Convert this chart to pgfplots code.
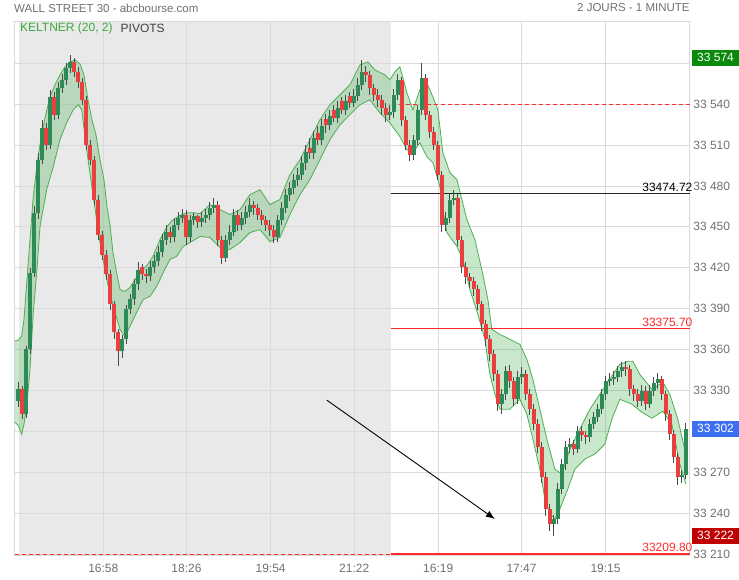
\documentclass[border=0pt]{standalone}
\usepackage{pgfplots}
\pgfplotsset{compat=1.18}
\usepackage{pgfplotstable}
\usepgfplotslibrary{fillbetween}
\usetikzlibrary{arrows.meta}
\usepackage{fontspec}
\setmainfont{Liberation Sans}
\definecolor{graybg}{HTML}{E9E9E9}
\definecolor{gridc}{HTML}{DADADA}
\definecolor{txtgray}{HTML}{707070}
\definecolor{candleG}{HTML}{2E8B57}
\definecolor{candleR}{HTML}{E8403F}
\definecolor{wick}{HTML}{4A4A4A}
\definecolor{bandline}{HTML}{4CAF50}
\definecolor{bandfill}{HTML}{4CAF50}
\definecolor{keltner}{HTML}{3DA83D}
\definecolor{boxgreen}{HTML}{0A8A0A}
\definecolor{boxblue}{HTML}{3B6FF0}
\definecolor{boxred}{HTML}{C00000}
\definecolor{pivred}{HTML}{FF2A2A}
\newcommand\ff{\fontsize{12}{14}\selectfont}
\newcommand\fs{\fontsize{11.5}{14}\selectfont}

\pgfplotstableread{
x o h l c
18 33322.0 33336.0 33318.0 33330.9
22 33330.9 33333.0 33309.0 33312.6
26 33312.6 33363.0 33310.0 33360.2
30 33360.2 33420.0 33357.0 33416.5
34 33416.5 33465.0 33413.0 33460.4
38 33460.4 33504.0 33456.0 33499.2
42 33499.2 33528.0 33496.0 33522.6
46 33522.6 33526.0 33506.0 33510.2
50 33510.2 33550.0 33507.0 33545.3
54 33545.3 33549.0 33528.0 33532.2
58 33532.2 33556.0 33529.0 33551.9
62 33551.9 33562.0 33548.0 33557.8
66 33557.8 33570.0 33554.0 33566.5
70 33566.5 33576.0 33563.0 33570.9
74 33570.9 33574.0 33560.0 33563.6
78 33563.6 33567.0 33552.0 33556.3
82 33556.3 33559.0 33539.0 33543.1
86 33543.1 33546.0 33506.0 33510.2
90 33510.2 33514.0 33495.0 33499.2
94 33499.2 33502.0 33466.0 33470.0
98 33470.0 33473.0 33440.0 33444.3
102 33444.3 33447.0 33426.0 33429.7
106 33429.7 33433.0 33411.0 33415.1
110 33415.1 33418.0 33389.0 33393.1
114 33393.1 33396.0 33368.0 33372.6
118 33372.6 33375.0 33347.8 33358.7
122 33358.7 33371.0 33354.0 33367.5
126 33367.5 33393.0 33364.0 33389.5
130 33389.5 33401.0 33386.0 33396.8
134 33396.8 33412.0 33393.0 33407.8
138 33407.8 33424.0 33404.0 33418.7
142 33420.5 33423.0 33411.0 33415.1
146 33415.1 33419.0 33409.0 33413.6
150 33413.6 33425.0 33410.0 33420.2
154 33420.2 33429.0 33416.0 33424.6
158 33424.6 33436.0 33421.0 33431.9
162 33431.9 33445.0 33428.0 33440.7
166 33440.7 33451.0 33437.0 33446.5
170 33446.5 33450.0 33438.0 33442.9
174 33442.9 33456.0 33439.0 33451.7
178 33451.7 33461.0 33448.0 33456.8
182 33456.8 33463.0 33453.0 33459.0
186 33459.0 33462.0 33437.0 33442.2
190 33442.2 33459.0 33439.0 33455.3
194 33455.3 33460.0 33451.0 33458.0
198 33458.0 33459.0 33449.0 33453.9
202 33453.9 33461.0 33450.0 33456.8
206 33456.8 33463.0 33453.0 33459.0
210 33459.0 33468.0 33455.0 33464.1
214 33464.1 33471.0 33460.0 33466.3
218 33466.3 33469.0 33436.0 33440.7
222 33440.7 33443.0 33423.0 33427.5
226 33427.5 33444.0 33424.0 33440.7
230 33440.7 33451.0 33437.0 33446.5
234 33446.5 33463.0 33443.0 33459.0
238 33459.0 33462.0 33447.0 33451.7
242 33451.7 33461.0 33448.0 33456.8
246 33456.8 33465.0 33452.0 33461.2
250 33461.2 33471.0 33457.0 33466.3
254 33466.3 33469.0 33459.0 33464.1
258 33464.1 33467.0 33455.0 33459.0
262 33459.0 33462.0 33451.0 33455.3
266 33455.3 33458.0 33447.0 33451.7
270 33451.7 33455.0 33443.0 33448.0
274 33448.0 33451.0 33438.0 33442.2
278 33442.2 33459.0 33439.0 33455.3
282 33455.3 33468.0 33451.0 33464.1
286 33464.1 33478.0 33460.0 33473.6
290 33473.6 33483.0 33469.0 33478.7
294 33478.7 33489.0 33474.0 33484.6
298 33484.6 33493.0 33480.0 33488.3
302 33488.3 33502.0 33484.0 33497.0
306 33497.0 33510.0 33492.0 33505.1
310 33508.0 33515.0 33500.0 33504.0
314 33504.0 33520.0 33500.0 33515.3
318 33519.0 33524.0 33510.0 33514.0
322 33514.0 33529.0 33510.0 33524.1
326 33529.0 33533.0 33519.0 33525.0
330 33525.0 33536.0 33521.0 33531.4
334 33536.0 33539.0 33527.0 33530.0
338 33530.0 33542.0 33526.0 33537.3
342 33542.0 33545.0 33533.0 33536.0
346 33536.0 33547.0 33532.0 33542.4
350 33546.0 33549.0 33537.0 33541.0
354 33541.0 33551.0 33538.0 33546.1
358 33546.1 33559.0 33542.0 33554.1
362 33554.1 33572.0 33550.0 33563.6
366 33563.6 33568.0 33556.0 33561.4
370 33561.4 33564.0 33547.0 33551.9
374 33551.9 33555.0 33542.0 33546.8
378 33546.8 33551.0 33538.0 33543.1
382 33543.1 33547.0 33532.0 33537.3
386 33537.3 33541.0 33527.0 33532.2
390 33532.2 33539.0 33528.0 33534.4
394 33534.4 33551.0 33530.0 33546.8
398 33546.8 33562.0 33543.0 33557.8
402 33557.8 33560.0 33524.0 33528.5
406 33528.5 33531.0 33506.0 33510.2
410 33510.2 33514.0 33498.0 33502.9
414 33502.9 33517.0 33499.0 33513.9
418 33513.9 33539.0 33510.0 33535.8
422 33535.8 33570.2 33532.0 33559.2
426 33559.2 33562.0 33528.0 33532.2
430 33532.2 33535.0 33515.0 33519.7
434 33519.7 33523.0 33506.0 33510.2
438 33510.2 33513.0 33484.0 33488.3
442 33488.3 33491.0 33446.5 33451.7
446 33451.7 33461.0 33447.0 33456.8
450 33456.8 33474.0 33453.0 33470.0
454 33470.0 33477.3 33466.0 33471.4
458 33471.4 33474.0 33436.0 33440.7
462 33440.7 33443.0 33416.0 33420.2
466 33420.2 33424.0 33408.0 33412.9
470 33412.9 33416.0 33405.0 33410.0
474 33410.0 33413.0 33399.0 33404.1
478 33404.1 33407.0 33389.0 33393.1
482 33393.1 33396.0 33374.0 33378.5
486 33378.5 33382.0 33363.0 33367.5
490 33367.5 33371.0 33352.0 33356.5
494 33356.5 33360.0 33337.0 33341.9
498 33341.9 33345.0 33315.0 33320.0
502 33320.0 33331.0 33312.6 33327.3
506 33327.3 33348.0 33323.0 33344.1
510 33344.1 33349.0 33332.0 33336.8
514 33336.8 33340.0 33319.0 33323.6
518 33323.6 33344.0 33320.0 33339.7
522 33339.7 33347.0 33335.0 33341.9
526 33341.9 33345.0 33323.0 33327.3
530 33327.3 33331.0 33312.0 33316.3
534 33316.3 33320.0 33301.0 33305.3
538 33305.3 33309.0 33284.0 33288.5
542 33288.5 33292.0 33262.0 33266.5
546 33266.5 33270.0 33238.0 33243.1
550 33243.1 33247.0 33227.0 33232.2
554 33232.2 33239.0 33223.4 33235.8
558 33235.8 33262.0 33232.0 33257.8
562 33257.8 33280.0 33254.0 33276.1
566 33276.1 33293.0 33272.0 33288.5
570 33288.5 33295.0 33284.0 33290.7
574 33290.7 33294.0 33283.0 33287.0
578 33287.0 33304.0 33284.0 33300.2
582 33300.2 33304.0 33293.0 33297.3
586 33297.3 33300.0 33291.0 33295.8
590 33295.8 33309.0 33292.0 33305.3
594 33305.3 33314.0 33302.0 33310.4
598 33310.4 33320.0 33307.0 33316.3
602 33316.3 33331.0 33313.0 33327.3
606 33327.3 33341.0 33323.0 33336.8
610 33336.8 33343.0 33333.0 33338.3
614 33338.3 33344.0 33334.0 33339.7
618 33339.7 33348.0 33336.0 33344.1
622 33344.1 33351.0 33340.0 33347.0
626 33347.0 33352.0 33341.0 33345.6
630 33345.6 33349.0 33326.0 33330.9
634 33330.9 33334.0 33322.0 33327.3
638 33327.3 33331.0 33318.0 33322.2
642 33322.2 33334.0 33319.0 33329.5
646 33329.5 33333.0 33316.0 33320.0
650 33320.0 33334.0 33317.0 33329.5
654 33329.5 33340.0 33326.0 33335.3
658 33335.3 33343.0 33331.0 33338.3
662 33338.3 33341.0 33323.0 33327.3
666 33327.3 33330.0 33308.0 33312.6
670 33312.6 33316.0 33294.0 33298.0
674 33298.0 33301.0 33277.0 33281.2
678 33281.2 33284.0 33261.0 33266.5
682 33266.5 33272.0 33262.0 33268.0
686 33268.0 33306.0 33265.0 33302.0
}\candles

\pgfplotstableread{
x y
14.7 33366.3
18 33366.8
21.7 33370.0
24 33382.2
27 33411.4
30 33440.7
33 33470.0
37 33495.6
40 33510.2
45 33530.0
50 33545.3
55 33554.1
60 33561.4
65 33567.3
70 33570.9
75 33572.4
80 33569.5
84 33561.4
88 33543.1
92 33528.5
96 33517.5
100 33499.2
104 33484.6
107 33464.8
110 33451.7
113 33431.2
117 33415.1
120 33404.1
125 33402.6
130 33405.6
135 33411.4
140 33417.3
147 33421.7
153 33428.3
160 33440.7
167 33450.2
173 33455.3
180 33458.3
187 33460.4
193 33460.4
200 33459.7
210 33466.3
220 33462.6
230 33459.0
240 33462.6
250 33473.6
260 33477.3
270 33466.3
280 33470.0
290 33488.3
300 33499.2
310 33513.9
320 33528.5
330 33539.5
340 33546.8
350 33554.1
360 33568.7
368 33570.9
375 33565.1
385 33561.4
390 33557.8
395 33563.6
400 33567.3
407 33548.3
413 33535.8
420 33550.4
427 33555.6
433 33545.3
438 33535.8
443 33504.3
450 33489.7
457 33484.6
462 33470.0
467 33455.3
475 33440.7
483 33415.1
488 33396.8
492 33374.8
500 33371.2
510 33367.5
520 33363.9
527 33352.9
533 33338.3
540 33316.3
547 33294.4
555 33272.4
562 33268.7
570 33287.0
580 33301.7
590 33316.3
600 33327.3
610 33338.3
620 33349.2
628 33351.4
633 33351.4
640 33341.9
652 33330.9
663 33336.1
670 33327.3
678 33309.0
686 33283.4
}\upperband

\pgfplotstableread{
x y
14.7 33306.8
18 33304.6
21.7 33298.0
24 33305.3
26.7 33318.5
30 33345.6
33.3 33387.3
37 33418.7
40 33450.2
46.7 33477.3
53.3 33494.1
60 33513.9
66.7 33526.3
73.3 33535.8
78.3 33539.5
81.7 33535.8
86.7 33506.5
93.3 33472.2
100 33438.5
106.7 33411.4
113.3 33391.7
120 33374.8
125 33369.7
130 33377.0
136.7 33387.3
143.3 33396.8
150 33399.0
156.7 33406.3
163.3 33416.5
170 33426.1
176.7 33428.3
183.3 33435.6
190 33438.5
200 33442.9
210 33442.2
220 33434.8
230 33433.4
240 33438.5
250 33445.8
260 33448.0
270 33439.2
280 33442.2
290 33459.0
300 33473.6
310 33484.6
320 33499.2
330 33513.9
340 33524.8
350 33532.2
360 33539.5
370 33543.1
380 33533.6
390 33526.3
400 33516.1
407 33506.5
413 33504.3
420 33511.7
427 33501.4
433 33497.0
440 33479.5
443 33462.6
447 33445.8
457 33435.6
463 33426.1
470 33404.1
478 33385.8
485 33367.5
490 33341.9
495 33327.3
500 33316.3
510 33316.3
520 33323.6
527 33312.6
533 33294.4
540 33272.4
545 33250.5
550 33239.5
555 33235.8
560 33243.1
568 33257.8
575 33272.4
585 33279.7
595 33283.4
605 33290.7
612 33309.0
620 33323.6
632 33320.0
642 33314.1
652 33309.7
663 33314.8
672 33305.3
680 33276.1
686 33261.4
}\lowerband

\begin{document}
\begin{tikzpicture}[x=1pt,y=1pt]
\path (0,0) rectangle (739,580);
\node[anchor=west, text=txtgray, font=\fs, inner sep=0pt] at (14,572) {WALL STREET 30 - abcbourse.com};
\node[anchor=east, text=txtgray, font=\fs, inner sep=0pt] at (690,572) {2 JOURS - 1 MINUTE};
\begin{axis}[
  at={(14.7pt,24pt)}, anchor=south west,
  scale only axis, width=675.3pt, height=534.7pt,
  xmin=14.7, xmax=690, ymin=33208.8, ymax=33600.7,
  scaled x ticks=false, scaled y ticks=false,
  set layers, clip mode=individual,
  axis line style={gridc, line width=0.8pt},
  grid=major, grid style={gridc, line width=0.8pt},
  major tick length=0pt,
  xtick={103.3,186.5,270.7,354.3,438.3,521.7,605.7},
  xticklabels={16:58,18:26,19:54,21:22,16:19,17:47,19:15},
  ytick={33210,33240,33270,33300,33330,33360,33390,33420,33450,33480,33510,33540,33570},
  yticklabels={33 210,33 240,33 270,{},33 330,33 360,33 390,33 420,33 450,33 480,33 510,33 540,{}},
  yticklabel pos=right,
  tick label style={font=\ff, text=txtgray},
  xticklabel style={yshift=-5pt},
  candle/.style={only marks, mark=*, mark size=0pt, mark options={draw=none, fill=none}, forget plot},
]
% grey first-session background
\addplot[fill=graybg, draw=none, on layer=axis background, forget plot]
  coordinates {(19.3,33150) (390.7,33150) (390.7,33650) (19.3,33650)} -- cycle;
% Keltner band
\addplot[name path=up, bandline, line width=0.8pt, forget plot] table[x=x,y=y] {\upperband};
\addplot[name path=lo, bandline, line width=0.8pt, forget plot] table[x=x,y=y] {\lowerband};
\addplot[bandfill, fill opacity=0.3, draw=none, forget plot] fill between[of=up and lo];
% pivots
\addplot[pivred, dash pattern=on 4pt off 3pt, line width=1pt, forget plot] coordinates {(392,33540) (690,33540)};
\addplot[black!85, line width=1pt, forget plot] coordinates {(390.7,33474.72) (690,33474.72)};
\addplot[pivred, line width=1pt, forget plot] coordinates {(390.7,33375.7) (690,33375.7)};
\addplot[pivred, line width=2pt, forget plot] coordinates {(390.7,33209.8) (690,33209.8)};
\addplot[pivred, dash pattern=on 4pt off 3pt, line width=1.2pt, forget plot] coordinates {(14.7,33209.8) (390.7,33209.8)};
% candles: wicks
\addplot[candle,
  error bars/.cd, y dir=both, y explicit, error mark=none,
  error bar style={wick, line width=0.9pt}]
  table[x=x, y=o, y error plus expr=\thisrow{h}-\thisrow{o}, y error minus expr=\thisrow{o}-\thisrow{l}] {\candles};
% candles: rising bodies
\addplot[candle,
  error bars/.cd, y dir=plus, y explicit, error mark=none,
  error bar style={candleG, line width=3.9pt}]
  table[x=x, y=o, y error plus expr={max(\thisrow{c}-\thisrow{o},0)}] {\candles};
% candles: falling bodies
\addplot[candle,
  error bars/.cd, y dir=minus, y explicit, error mark=none,
  error bar style={candleR, line width=3.9pt}]
  table[x=x, y=o, y error minus expr={max(\thisrow{o}-\thisrow{c},0)}] {\candles};
% pivot labels
\node[anchor=south east, text=black, font=\ff, inner sep=1.2pt] at (axis cs:694,33474.72) {33474.72};
\node[anchor=south east, text=pivred, font=\ff, inner sep=1.2pt] at (axis cs:694,33375.7) {33375.70};
\node[anchor=south east, text=pivred, font=\ff, inner sep=1.2pt] at (axis cs:694,33210.8) {33209.80};
% arrow annotation
\draw[-{Latex[length=9pt,width=7pt]}, line width=0.9pt] (axis cs:327,33322.9) -- (axis cs:495,33235.8);
% price boxes
\node[anchor=west, fill=boxgreen, text=white, font=\ff, inner sep=0pt, minimum width=47pt, minimum height=16pt, xshift=2pt] at (axis cs:690,33574) {33 574};
\node[anchor=west, fill=boxblue, text=white, font=\ff, inner sep=0pt, minimum width=47pt, minimum height=16pt, xshift=2pt] at (axis cs:690,33302) {33 302};
\node[anchor=west, fill=boxred, text=white, font=\ff, inner sep=0pt, minimum width=47pt, minimum height=16pt, xshift=2pt] at (axis cs:690,33223.5) {33 222};
\end{axis}
\node[anchor=west, text=keltner, font=\ff, inner sep=0pt] at (20,552) {KELTNER (20, 2)};
\node[anchor=west, text=black!75, font=\ff, inner sep=0pt] at (120.5,552) {PIVOTS};
\end{tikzpicture}
\end{document}
